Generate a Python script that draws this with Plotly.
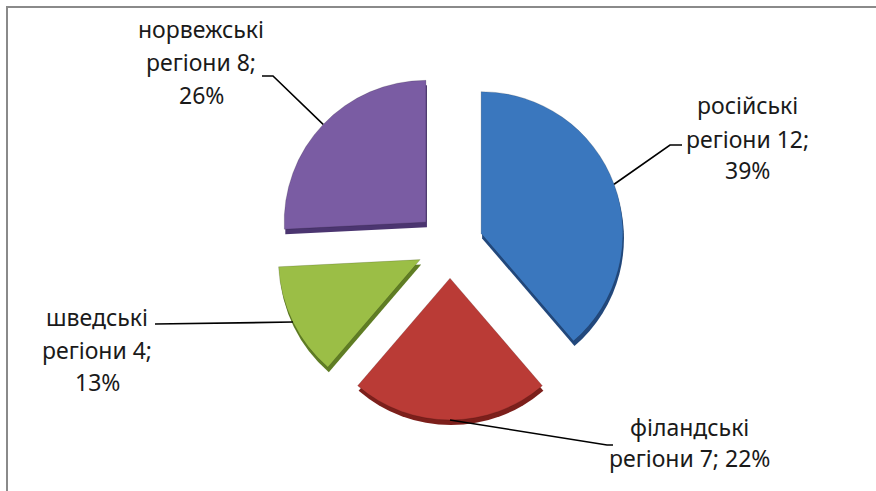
import math
import plotly.graph_objects as go

# Regions and their counts
categories = ["російські регіони", "фінландські регіони", "шведські регіони", "норвежські регіони"]
values = [12, 7, 4, 8]
percent_labels = ["39%", "22%", "13%", "26%"]

W, H = 876, 491
face_colors = ["#3A77BE", "#BA3B36", "#9BBE46", "#7A5CA3"]
side_colors = ["#22487C", "#7C1F1B", "#5F7D24", "#4B3570"]
PULL = 0.234

# pie box in pixels (centre and outer half-size incl. pull)
CX, CY, HALF = 450, 245, 175
DEPTH = 5


def px_domain(cx, cy):
    return dict(x=[(cx - HALF) / W, (cx + HALF) / W],
                y=[1 - (cy + HALF) / H, 1 - (cy - HALF) / H])


fig = go.Figure()
# darker copy slightly lower gives the slices their thickness
fig.add_trace(go.Pie(labels=categories, values=values, sort=False, direction="clockwise",
                     rotation=0, pull=[PULL] * 4, textinfo="none", hoverinfo="skip",
                     marker=dict(colors=side_colors, line=dict(width=0)),
                     domain=px_domain(CX + 1, CY + DEPTH), showlegend=False))
fig.add_trace(go.Pie(labels=categories, values=values, sort=False, direction="clockwise",
                     rotation=0, pull=[PULL] * 4, textinfo="none",
                     marker=dict(colors=face_colors, line=dict(width=0.6, color="rgba(0,0,0,0.25)")),
                     domain=px_domain(CX, CY), showlegend=False))

# attachment point of each leader line: middle of each slice's outer arc
total = sum(values)
attach = []
cum = 0
for v in values:
    mid = (cum + v / 2) / total * 2 * math.pi
    cum += v
    attach.append((CX + HALF * math.sin(mid), CY - HALF * math.cos(mid)))

# label lines of text, their centre points, and leader-line elbows (pixels)
label_lines = [
    ["російські", "регіони " + str(values[0]) + ";", percent_labels[0]],
    ["філандські", "регіони " + str(values[1]) + "; " + percent_labels[1]],
    ["шведські", "регіони " + str(values[2]) + ";", percent_labels[2]],
    ["норвежські", "регіони " + str(values[3]) + ";", percent_labels[3]],
]
label_x = [747, 689, 97, 201]
label_y = [[105, 139, 170], [427, 458], [317, 350, 382], [29, 62, 95]]
elbows = [
    [(670, 145), (682, 145)],
    [(607, 445), (613, 445)],
    [(155, 324)],
    [(273, 76), (262, 76)],
]


def P(x, y):
    return x / W, 1 - y / H


shapes = []
for (ax, ay), pts in zip(attach, elbows):
    path_pts = [(ax, ay)] + pts
    d = "M " + " L ".join(f"{P(x, y)[0]:.5f},{P(x, y)[1]:.5f}" for x, y in path_pts)
    shapes.append(dict(type="path", path=d, xref="paper", yref="paper",
                       line=dict(color="#000000", width=1.6)))

# chart frame
shapes.append(dict(type="rect", xref="paper", yref="paper",
                   x0=P(7, 0)[0], x1=P(W + 20, 0)[0], y0=P(0, H + 20)[1], y1=P(0, 7)[1],
                   line=dict(color="#8A8A8A", width=2), fillcolor="rgba(0,0,0,0)"))

annotations = []
for lines, x, ys in zip(label_lines, label_x, label_y):
    for txt, y in zip(lines, ys):
        px, py = P(x, y)
        annotations.append(dict(text=txt, x=px, y=py, xref="paper", yref="paper",
                                showarrow=False, xanchor="center", yanchor="middle",
                                font=dict(family="Noto Sans", size=23, color="#1A1A1A")))

fig.update_layout(width=W, height=H, margin=dict(l=0, r=0, t=0, b=0),
                  paper_bgcolor="white", plot_bgcolor="white",
                  shapes=shapes, annotations=annotations, showlegend=False)

fig.write_html("out.html")
